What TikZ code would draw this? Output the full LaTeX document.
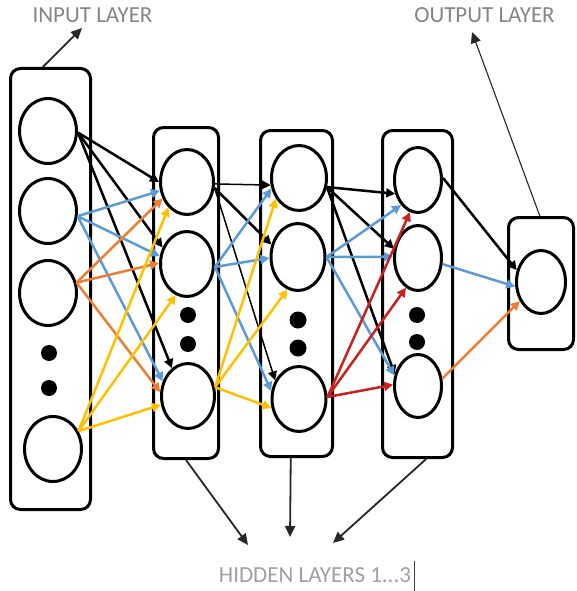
\documentclass[tikz,border=0pt]{standalone}
\usepackage{fontspec}
\setmainfont{Carlito}
\usepackage{tikz}
\usetikzlibrary{arrows.meta, shapes.geometric}
\definecolor{azul}{HTML}{5B9BD5}
\definecolor{naranja}{HTML}{ED7D31}
\definecolor{amarillo}{HTML}{FFC000}
\definecolor{rojo}{HTML}{C9211E}
\definecolor{gris}{HTML}{858585}
\definecolor{grisclaro}{HTML}{A0A0A0}
\tikzset{
  every picture/.style={x=1pt, y=-1pt, >={Triangle[length=9pt, width=9pt]}},
  capa/.style={draw, line width=3pt, rounded corners=10pt, inner sep=0pt},
  neurona/.style={draw, ellipse, line width=3pt, inner sep=0pt, minimum width=53pt, minimum height=65pt},
  punto/.style={circle, fill, inner sep=0pt, minimum size=16pt},
  etiqueta/.style={font=\fontsize{23}{27}\selectfont, inner sep=2pt},
  flecha/.style={->, line width=2.5pt},
  flechan/.style={flecha, black},
  flechafina/.style={->, line width=1.5pt, black},
  flechaa/.style={flecha, azul},
  flechao/.style={flecha, naranja},
  flechay/.style={flecha, amarillo},
  flechar/.style={flecha, rojo},
  guia/.style={->, line width=1.8pt, black!85, >={Triangle[length=11pt, width=10pt]}},
  guiafina/.style={guia, line width=1.1pt},
}

\begin{document}
\begin{tikzpicture}
  \useasboundingbox (0,0) rectangle (576,591);
  % capas
  \node[capa, minimum width=80pt, minimum height=441pt] (inbox) at (50.5,289) {};
  \node[capa, minimum width=65pt, minimum height=331pt] (h1box) at (186,293) {};
  \node[capa, minimum width=72pt, minimum height=326pt] (h2box) at (296.5,293.5) {};
  \node[capa, minimum width=70pt, minimum height=327pt] (h3box) at (417.5,294) {};
  \node[capa, minimum width=65pt, minimum height=132pt] (outbox) at (541,283.5) {};
  % neuronas
  \node[neurona, minimum width=57pt] (i1) at (48,131) {};
  \node[neurona, minimum width=57pt] (i2) at (48,211) {};
  \node[neurona, minimum width=57pt] (i3) at (48,293) {};
  \node[neurona, minimum width=57pt] (i4) at (53,449) {};
  \node[punto] (id1) at (49,353) {}; \node[punto] (id2) at (49,388) {};
  \node[neurona] (h1n1) at (187,182) {};
  \node[neurona] (h1n2) at (187,264) {};
  \node[neurona] (h1n3) at (188,396) {};
  \node[punto] (h1d1) at (188,315) {}; \node[punto] (h1d2) at (188,344) {};
  \node[neurona, minimum width=55pt] (h2n1) at (299,178) {};
  \node[neurona, minimum width=54pt, minimum height=67pt] (h2n2) at (298,257) {};
  \node[neurona, minimum width=54pt] (h2n3) at (299,399) {};
  \node[punto, minimum size=17pt] (h2d1) at (298,320) {}; \node[punto, minimum size=17pt] (h2d2) at (298,348) {};
  \node[neurona, minimum width=47pt] (h3n1) at (418,180) {};
  \node[neurona, minimum width=47pt] (h3n2) at (418,258) {};
  \node[neurona, minimum width=47pt, minimum height=63pt] (h3n3) at (418,386) {};
  \node[punto] (h3d1) at (417,315) {}; \node[punto] (h3d2) at (417,342) {};
  \node[neurona, minimum width=49pt, minimum height=63pt] (o1) at (541,282) {};
  % etiquetas
  \node[etiqueta, text=gris] (inlabel) at (92.5,15.5) {INPUT LAYER};
  \node[etiqueta, text=gris] (outlabel) at (484.5,15.5) {OUTPUT LAYER};
  \node[etiqueta, text=grisclaro] (hidlabel) at (315,575.5) {HIDDEN LAYERS 1...3};
  \draw[line width=1pt, black!75] (hidlabel.east) ++(1,-15) -- ++(0,30);
  \coordinate (inp) at (82,28); \coordinate (outp) at (472,32);
  \coordinate (ht1) at (248,545); \coordinate (ht2) at (290,537); \coordinate (ht3) at (333,543);
  % entrada -> oculta 1
  \draw[flechan] (i1.-3) -- (h1n1.180); \draw[flechan] (i1.-3) -- (h1n2.146); \draw[flechan] (i1.-3) -- (h1n3.120);
  \draw[flechaa] (i2.-10) -- (h1n1.198); \draw[flechaa] (i2.-10) -- (h1n2.164); \draw[flechaa] (i2.-10) -- (h1n3.150);
  \draw[flechao] (i3.20) -- (h1n1.214); \draw[flechao] (i3.20) -- (h1n2.178); \draw[flechao] (i3.20) -- (h1n3.172);
  \draw[flechay] (i4.35) -- (h1n1.234); \draw[flechay] (i4.35) -- (h1n2.250); \draw[flechay] (i4.35) -- (h1n3.198);
  % oculta 1 -> oculta 2
  \draw[flechafina] (h1n1.-4) -- (h2n1.194); \draw[flechan] (h1n1.-12) -- (h2n2.155); \draw[flechafina] (h1n1.-12) -- (h2n3.142);
  \draw[flechaa] (h1n2.-6) -- (h2n1.201); \draw[flechaa] (h1n2.-6) -- (h2n2.182); \draw[flechaa] (h1n2.-6) -- (h2n3.164);
  \draw[flechay] (h1n3.18) -- (h2n1.222); \draw[flechay] (h1n3.18) -- (h2n2.252); \draw[flechay] (h1n3.18) -- (h2n3.198);
  % oculta 2 -> oculta 3
  \draw[flechan] (h2n1.-18) -- (h3n1.211); \draw[flechan] (h2n1.-18) -- (h3n2.159); \draw[flechan] (h2n1.-18) -- (h3n3.153);
  \draw[flechaa] (h2n2.0) -- (h3n1.236); \draw[flechaa] (h2n2.0) -- (h3n2.177); \draw[flechaa] (h2n2.0) -- (h3n3.156);
  \draw[flechar] (h2n3.4) -- (h3n1.256); \draw[flechar] (h2n3.4) -- (h3n2.248); \draw[flechar] (h2n3.4) -- (h3n3.177);
  % oculta 3 -> salida
  \draw[flechan] (h3n1.5) -- (o1.154); \draw[flechaa] (h3n2.-14) -- (o1.190); \draw[flechao] (h3n3.17) -- (o1.222);
  % guias
  \draw[guia] (inbox.92) -- (inp); \draw[guiafina] (outbox.91) -- (outp);
  \draw[guia] (h1box.south) -- (ht1); \draw[guia] (h2box.-92) -- (ht2); \draw[guia] (h3box.-87) -- (ht3);
\end{tikzpicture}
\end{document}
